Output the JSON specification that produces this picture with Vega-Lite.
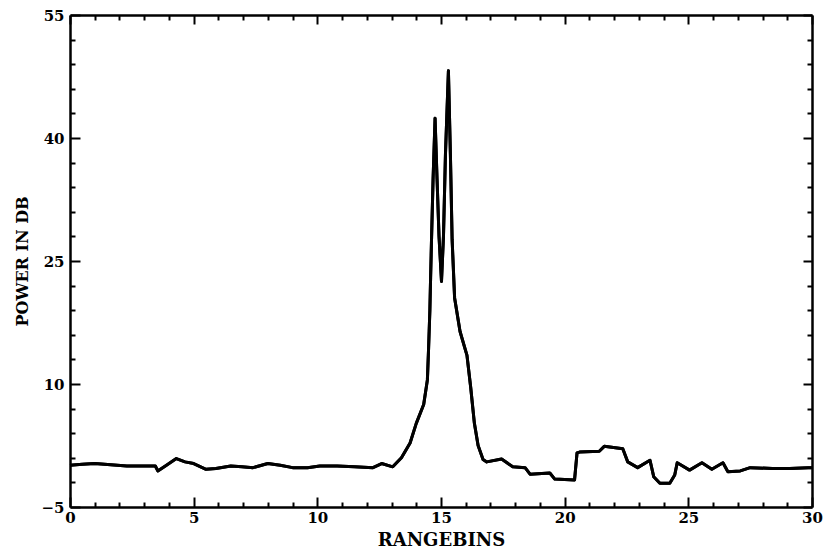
{
  "$schema": "https://vega.github.io/schema/vega-lite/v6.json",
  "width": 742,
  "height": 492,
  "autosize": {"type": "none"},
  "padding": {"left": 70, "top": 15, "right": 12, "bottom": 46},
  "background": "white",
  "config": {
    "view": {"stroke": null},
    "axis": {
      "domainColor": "black",
      "domainWidth": 2.5,
      "tickColor": "black",
      "tickWidth": 2,
      "labelFont": "DejaVu Serif",
      "labelFontWeight": "bold",
      "labelFontSize": 15,
      "labelColor": "black",
      "titleFont": "DejaVu Serif",
      "titleFontWeight": "bold",
      "titleColor": "black",
      "grid": false
    }
  },
  "data": {
    "values": [
      {"bin": 0, "db": 0.1}, {"bin": 0.5, "db": 0.2}, {"bin": 1, "db": 0.3},
      {"bin": 2.3, "db": 0.0}, {"bin": 3.45, "db": 0.0}, {"bin": 3.55, "db": -0.6},
      {"bin": 3.9, "db": 0.1}, {"bin": 4.3, "db": 0.9}, {"bin": 4.65, "db": 0.5},
      {"bin": 5.0, "db": 0.3}, {"bin": 5.5, "db": -0.4}, {"bin": 5.9, "db": -0.3},
      {"bin": 6.5, "db": 0.0}, {"bin": 6.95, "db": -0.1}, {"bin": 7.4, "db": -0.2},
      {"bin": 8.0, "db": 0.3}, {"bin": 8.5, "db": 0.1}, {"bin": 9.0, "db": -0.2},
      {"bin": 9.6, "db": -0.2}, {"bin": 10.1, "db": 0.0}, {"bin": 10.8, "db": 0.0},
      {"bin": 11.5, "db": -0.1}, {"bin": 12.25, "db": -0.2}, {"bin": 12.6, "db": 0.3},
      {"bin": 13.05, "db": -0.1}, {"bin": 13.4, "db": 1.0}, {"bin": 13.75, "db": 2.8},
      {"bin": 14.0, "db": 5.2}, {"bin": 14.3, "db": 7.5}, {"bin": 14.45, "db": 10.5},
      {"bin": 14.5, "db": 14.5}, {"bin": 14.55, "db": 19}, {"bin": 14.58, "db": 23},
      {"bin": 14.62, "db": 28}, {"bin": 14.68, "db": 35}, {"bin": 14.76, "db": 42.4},
      {"bin": 14.84, "db": 35}, {"bin": 14.92, "db": 28}, {"bin": 15.02, "db": 22.5},
      {"bin": 15.1, "db": 28}, {"bin": 15.18, "db": 38}, {"bin": 15.3, "db": 48.2},
      {"bin": 15.38, "db": 38}, {"bin": 15.45, "db": 27.6}, {"bin": 15.55, "db": 20.5},
      {"bin": 15.77, "db": 16.4}, {"bin": 16.05, "db": 13.5}, {"bin": 16.2, "db": 9.6},
      {"bin": 16.35, "db": 5.2}, {"bin": 16.5, "db": 2.5}, {"bin": 16.7, "db": 0.8},
      {"bin": 16.85, "db": 0.5}, {"bin": 17.45, "db": 0.85}, {"bin": 17.9, "db": -0.1},
      {"bin": 18.4, "db": -0.2}, {"bin": 18.6, "db": -1.0}, {"bin": 19.4, "db": -0.85},
      {"bin": 19.6, "db": -1.6}, {"bin": 20.4, "db": -1.7}, {"bin": 20.5, "db": 1.6},
      {"bin": 20.6, "db": 1.7}, {"bin": 21.4, "db": 1.8}, {"bin": 21.6, "db": 2.4},
      {"bin": 22.35, "db": 2.1}, {"bin": 22.55, "db": 0.5}, {"bin": 22.95, "db": -0.2},
      {"bin": 23.45, "db": 0.7}, {"bin": 23.6, "db": -1.3}, {"bin": 23.85, "db": -2.1},
      {"bin": 24.25, "db": -2.1}, {"bin": 24.45, "db": -1.1}, {"bin": 24.55, "db": 0.4},
      {"bin": 25.05, "db": -0.5}, {"bin": 25.55, "db": 0.4}, {"bin": 25.95, "db": -0.4},
      {"bin": 26.4, "db": 0.4}, {"bin": 26.6, "db": -0.7}, {"bin": 27.1, "db": -0.6},
      {"bin": 27.5, "db": -0.2}, {"bin": 28.4, "db": -0.3}, {"bin": 29.1, "db": -0.3},
      {"bin": 29.85, "db": -0.2}, {"bin": 30, "db": -0.2}
    ]
  },
  "layer": [
    {
      "mark": {"type": "line", "color": "black", "strokeWidth": 3, "strokeJoin": "round"},
      "encoding": {
        "x": {
          "field": "bin", "type": "quantitative",
          "scale": {"domain": [0, 30], "nice": false, "zero": false},
          "axis": {
            "orient": "bottom",
            "title": "RANGEBINS",
            "titleFontSize": 18,
            "values": [0,1,2,3,4,5,6,7,8,9,10,11,12,13,14,15,16,17,18,19,20,21,22,23,24,25,26,27,28,29,30],
            "labelExpr": "datum.value % 5 === 0 ? datum.label : ''",
            "tickSize": {"condition": {"test": "datum.value % 5 === 0", "value": -10}, "value": -5},
            "labelPadding": 13,
            "labelFlush": false,
            "titlePadding": 6
          }
        },
        "y": {
          "field": "db", "type": "quantitative",
          "scale": {"domain": [-5, 55], "nice": false, "zero": false},
          "axis": {
            "orient": "left",
            "title": "POWER IN DB",
            "titleFontSize": 16,
            "values": [-5,-2,1,4,7,10,13,16,19,22,25,28,31,34,37,40,43,46,49,52,55],
            "labelExpr": "(datum.value + 5) % 15 === 0 ? datum.label : ''",
            "tickSize": {"condition": {"test": "(datum.value + 5) % 15 === 0", "value": -10}, "value": -5},
            "labelPadding": 16,
            "labelFlush": false,
            "titlePadding": 10
          }
        }
      }
    },
    {
      "mark": {"type": "line", "color": "black", "strokeWidth": 3, "strokeJoin": "round"},
      "encoding": {
        "x": {
          "field": "bin", "type": "quantitative",
          "axis": {
            "orient": "top",
            "title": null,
            "labels": false,
            "values": [0,1,2,3,4,5,6,7,8,9,10,11,12,13,14,15,16,17,18,19,20,21,22,23,24,25,26,27,28,29,30],
            "tickSize": {"condition": {"test": "datum.value % 5 === 0", "value": -9}, "value": -5}
          }
        },
        "y": {
          "field": "db", "type": "quantitative",
          "axis": {
            "orient": "right",
            "title": null,
            "labels": false,
            "values": [-5,-2,1,4,7,10,13,16,19,22,25,28,31,34,37,40,43,46,49,52,55],
            "tickSize": {"condition": {"test": "(datum.value + 5) % 15 === 0", "value": -9}, "value": -5}
          }
        }
      }
    }
  ],
  "resolve": {"axis": {"x": "independent", "y": "independent"}}
}
